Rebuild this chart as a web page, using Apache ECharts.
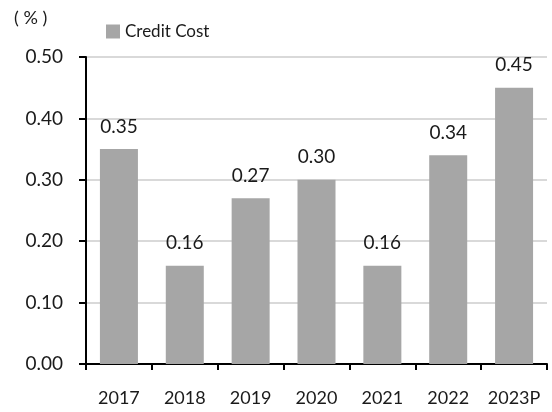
<!DOCTYPE html>
<html><head><meta charset="utf-8">
<script src="https://cdn.jsdelivr.net/npm/echarts@6/dist/echarts.min.js"></script>
<style>html,body{margin:0;padding:0;background:#fff}#c{width:552px;height:412px}</style>
</head><body><div id="c"></div>
<script>
const categories = ["2017","2018","2019","2020","2021","2022","2023P"];
const creditCost = [0.35,0.16,0.27,0.30,0.16,0.34,0.45];
const yTicks = [0,0.1,0.2,0.3,0.4,0.5];
const FONT = "Lato";
const W = 400;
const chart = echarts.init(document.getElementById('c'), null, {renderer:'canvas'});
chart.setOption({
  animation:false,
  backgroundColor:'#fff',
  textStyle:{fontFamily:FONT},
  grid:{left:86,right:5,top:57,bottom:48,containLabel:false},
  legend:{show:true,left:101,top:18,itemWidth:14,itemHeight:14,itemGap:5,icon:'rect',
    textStyle:{fontFamily:FONT,fontSize:17,fontWeight:W,color:'#1a1a1a'},data:['Credit Cost']},
  graphic:[{type:'text',left:14,top:9,style:{text:'( % )',font:W+' 18px '+FONT,fill:'#1a1a1a'}}],
  xAxis:{type:'category',data:categories,boundaryGap:true,
    axisLine:{lineStyle:{color:'#000',width:2}},
    axisTick:{show:true,length:6,lineStyle:{color:'#000',width:2},alignWithLabel:false},
    axisLabel:{interval:0,color:'#1a1a1a',fontSize:18,fontWeight:W,fontFamily:FONT,margin:25}},
  yAxis:{type:'value',min:0,max:0.5,interval:0.1,
    axisLine:{show:true,lineStyle:{color:'#000',width:2}},
    axisTick:{show:true,length:7,lineStyle:{color:'#000',width:2}},
    axisLabel:{color:'#1a1a1a',fontSize:19,fontWeight:W,fontFamily:FONT,margin:23,formatter:v=>v.toFixed(2)},
    splitLine:{show:true,lineStyle:{color:'#d9d9d9',width:2}}},
  series:[{name:'Credit Cost',type:'bar',data:creditCost,barWidth:38,
    itemStyle:{color:'#a6a6a6'},
    label:{show:true,position:'top',distance:13,color:'#1a1a1a',fontSize:19,fontWeight:W,fontFamily:FONT,
      formatter:p=>p.value.toFixed(2)}}]
});
</script></body></html>
